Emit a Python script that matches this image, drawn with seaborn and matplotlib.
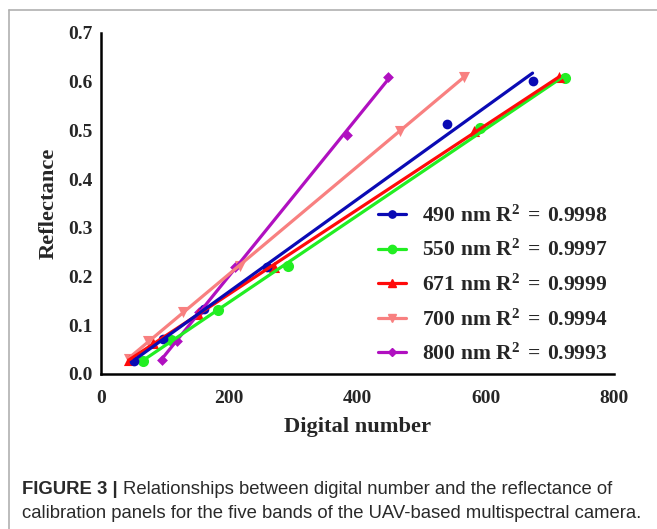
import numpy as np
import pandas as pd
import seaborn as sns
import matplotlib.pyplot as plt
from matplotlib.lines import Line2D
from matplotlib.font_manager import FontProperties

# values (digital number, reflectance) per band
bands = ['490', '550', '671', '700', '800']
r2_values = ['0.9998', '0.9997', '0.9999', '0.9994', '0.9993']

dn_490 = [52, 96, 161, 259, 539, 673]
ref_490 = [0.027, 0.071, 0.133, 0.219, 0.513, 0.602]
dn_550 = [65, 109, 182, 292, 591, 724]
ref_550 = [0.027, 0.070, 0.131, 0.222, 0.506, 0.607]
dn_671 = [44, 81, 151, 270, 582, 715]
ref_671 = [0.029, 0.064, 0.123, 0.219, 0.498, 0.610]
dn_700 = [44, 74, 128, 216, 466, 566]
ref_700 = [0.031, 0.068, 0.128, 0.222, 0.498, 0.610]
dn_800 = [95, 118, 153, 209, 383, 447]
ref_800 = [0.029, 0.068, 0.128, 0.219, 0.491, 0.609]

x_ticks = [0, 200, 400, 600, 800]
y_ticks = [0.0, 0.1, 0.2, 0.3, 0.4, 0.5, 0.6, 0.7]

colors = {'490': '#0a0ab4', '550': '#22ee22', '671': '#ff0a0a',
          '700': '#f88080', '800': '#b010c0'}
markers = {'490': 'o', '550': 'o', '671': '^', '700': 'v', '800': 'D'}
msize = {'490': 7, '550': 8, '671': 8, '700': 8, '800': 5.5}

frames = []
for b, dn, ref in zip(bands, [dn_490, dn_550, dn_671, dn_700, dn_800],
                      [ref_490, ref_550, ref_671, ref_700, ref_800]):
    frames.append(pd.DataFrame({'band': b, 'dn': dn, 'ref': ref}))
df = pd.concat(frames, ignore_index=True)

sns.set_style('white')
plt.rcParams['font.family'] = ['Liberation Serif', 'DejaVu Serif']
plt.rcParams['mathtext.fontset'] = 'custom'
plt.rcParams['mathtext.bf'] = 'Liberation Serif:bold'
plt.rcParams['mathtext.rm'] = 'Liberation Serif:bold'

fig = plt.figure(figsize=(6.57, 5.29), dpi=100)
ax = fig.add_axes([101 / 657, 1 - 374 / 529, 513 / 657, 341 / 529])

draw_order = ['800', '700', '550', '671', '490']
for b in draw_order:
    sub = df[df['band'] == b]
    sns.regplot(data=sub, x='dn', y='ref', ax=ax, ci=None, truncate=True,
                color=colors[b], marker=markers[b],
                scatter_kws={'s': msize[b] ** 2, 'alpha': 1, 'linewidths': 0},
                line_kws={'linewidth': 2.3})

ax.set_xlim(0, 800)
ax.set_ylim(0, 0.7)
ax.set_xticks(x_ticks)
ax.set_xticklabels([str(t) for t in x_ticks])
ax.set_yticks(y_ticks)
ax.set_yticklabels([f'{t:.1f}' for t in y_ticks])
ax.set_xlabel('Digital number', fontsize=16.2, fontweight='bold', labelpad=7)
ax.set_ylabel('Reflectance', fontsize=16.2, fontweight='bold', labelpad=7)
for lab in ax.get_xticklabels() + ax.get_yticklabels():
    lab.set_fontweight('bold')
    lab.set_fontsize(14)
ax.tick_params(axis='x', direction='out', length=6, width=1.8, color='black', pad=5.5)
ax.tick_params(axis='y', direction='out', length=4.5, width=1.8, color='black', pad=1.5)

for s in ['top', 'right']:
    ax.spines[s].set_visible(False)
for s in ['left', 'bottom']:
    ax.spines[s].set_linewidth(1.8)
    ax.spines[s].set_color('black')
ax.patch.set_alpha(0)

leg_font = FontProperties(family='Liberation Serif', weight='bold', size=15.5)
handles = [Line2D([0], [0], color=colors[b], marker=markers[b], linewidth=2.3,
                  markersize=msize[b] * 0.75) for b in bands]
labels = [rf'$\mathbf{{{b}\;nm\;R^{{2}}\,=\,{r}}}$' for b, r in zip(bands, r2_values)]
leg = ax.legend(handles, labels, loc='lower right', bbox_to_anchor=(1.025, -0.03),
                frameon=False, prop=leg_font,
                handlelength=1.3, handletextpad=0.75, labelspacing=0.62)

# caption in sans-serif
cap_y1 = 1 - 489 / 529
t1 = fig.text(22 / 657, cap_y1, 'FIGURE 3 | ', fontsize=13.3, fontweight='bold',
              family=['Liberation Sans'], va='center', ha='left', color='#2a2a2a')
fig.canvas.draw()
bb = t1.get_window_extent(renderer=fig.canvas.get_renderer())
fig.text(bb.x1 / 657, cap_y1,
         'Relationships between digital number and the reflectance of',
         fontsize=13.3, family=['Liberation Sans'], va='center', ha='left', color='#2a2a2a')
fig.text(22 / 657, 1 - 513 / 529,
         'calibration panels for the five bands of the UAV-based multispectral camera.',
         fontsize=13.3, family=['Liberation Sans'], va='center', ha='left', color='#2a2a2a')

# grey frame lines at top and left
fig.add_artist(Line2D([9 / 657, 1], [1 - 10 / 529, 1 - 10 / 529], color='#b0b0b0', linewidth=1.2))
fig.add_artist(Line2D([9 / 657, 9 / 657], [0, 1 - 10 / 529], color='#b0b0b0', linewidth=1.2))

fig.savefig('out.png', dpi=100)
